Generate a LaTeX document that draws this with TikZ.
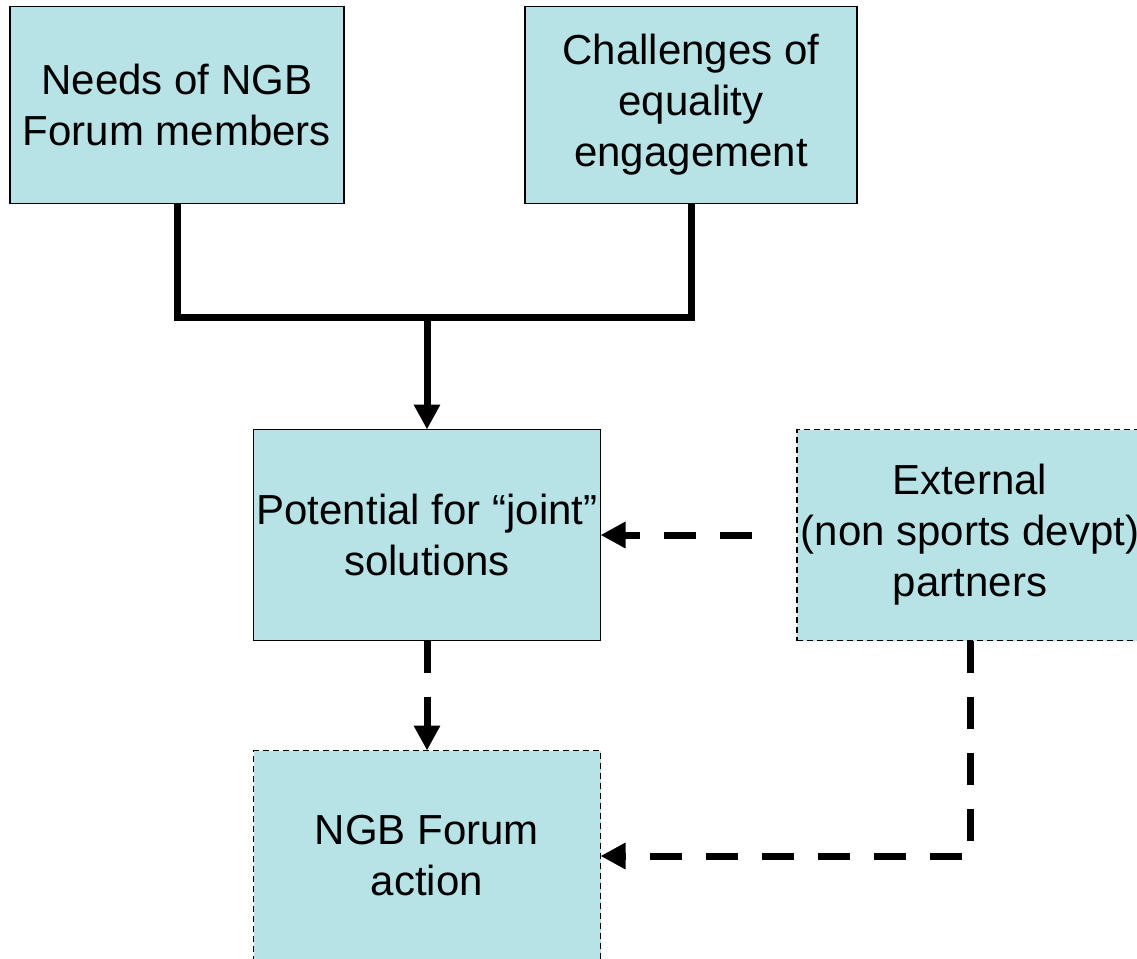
\documentclass[tikz,border=0pt]{standalone}
\usepackage{fontspec}
\setmainfont{Liberation Sans}
\usetikzlibrary{arrows.meta}
\definecolor{boxfillcolor}{HTML}{B7E3E6}

\begin{document}
\begin{tikzpicture}[
	box/.style={rectangle, fill=boxfillcolor, draw, line width=1.5pt, inner sep=0pt,
		minimum width=347pt, minimum height=211pt, align=center},
	dashbox/.style={box, dash pattern=on 6pt off 4pt},
	link/.style={line width=7pt},
	dashlink/.style={link, dash pattern=on 32pt off 24pt},
	arrow/.style={-{Triangle[length=25pt, width=25pt]}},
	node distance=430pt,
	every node/.style={outer sep=0pt, font=\fontsize{42}{51}\selectfont},
]
\useasboundingbox (0,0) rectangle (1137pt,-958pt);
% Top row.
	\node[box, minimum width=334pt, minimum height=197pt] at (177pt,-105pt) (needs)
		{Needs of NGB\\Forum members};
	\node[box, minimum width=332pt, minimum height=197pt, right of=needs, xshift=84pt] (chall)
		{Challenges of\\equality\\engagement};
% Middle row.
	\node[box, below of=needs, xshift=250pt] (joint)
		{Potential for “joint”\\solutions};
	\node[dashbox, minimum width=346pt, right of=joint, xshift=113pt] (ext)
		{External\\(non sports devpt)\\partners};
% Bottom.
	\node[dashbox, below of=joint, yshift=109pt] (action)
		{NGB Forum\\action};
% Fork from the two top boxes down to the joint box.
	\path (needs.south) ++(0,-114pt) coordinate (fork);
	\draw[link] (needs.south) -- (fork) -| (chall.south);
	\draw[link, arrow] (fork -| joint.north) -- (joint.north);
% Dashed connections.
	\draw[dashlink, arrow, shorten <=45pt] (ext.west) -- (joint.east);
	\draw[dashlink, arrow] (joint.south) -- (action.north);
	\draw[dashlink, arrow] (ext.south) |- (action.east);
\end{tikzpicture}
\end{document}
